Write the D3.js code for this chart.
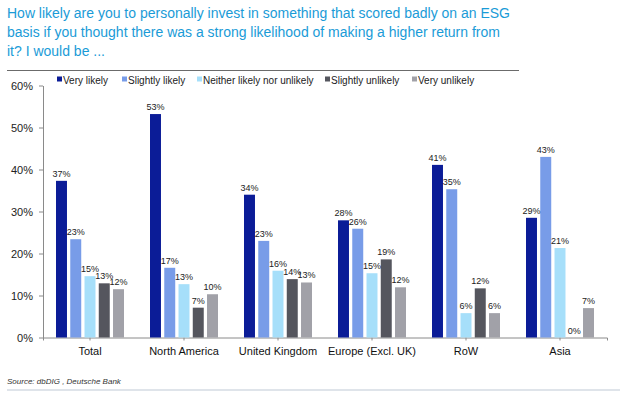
<!DOCTYPE html>
<html>
<head>
<meta charset="utf-8">
<script src="https://cdn.jsdelivr.net/npm/d3@7"></script>
<style>
  body { margin: 0; background: #fff; }
  svg { display: block; font-family: Arial, "Liberation Sans", sans-serif; }
</style>
</head>
<body>
<svg id="chart" width="620" height="393"></svg>
<script>
// Survey categories and answer series (percent of respondents)
const categories = ['Total', 'North America', 'United Kingdom', 'Europe (Excl. UK)', 'RoW', 'Asia'];
const seriesNames = ['Very likely', 'Slightly likely', 'Neither likely nor unlikely', 'Slightly unlikely', 'Very unlikely'];
const veryLikely       = [37.3, 53.2, 34.0, 27.9, 41.1, 28.5];
const slightlyLikely   = [23.4, 16.6, 23.0, 25.9, 35.3, 43.0];
const neither          = [14.6, 12.7, 15.9, 15.3, 5.8, 21.3];
const slightlyUnlikely = [12.9, 7.1, 13.9, 18.6, 11.7, 0];
const veryUnlikely     = [11.5, 10.3, 13.1, 11.95, 5.8, 7.0];
const yTicks = [0, 10, 20, 30, 40, 50, 60];

const titleLines = [
  'How likely are you to personally invest in something that scored badly on an ESG',
  'basis if you thought there was a strong likelihood of making a higher return from',
  'it? I would be ...'
];

const colors = ['#0b1c97', '#789ce8', '#a6dffa', '#55565e', '#a1a1a8'];
const allSeries = [veryLikely, slightlyLikely, neither, slightlyUnlikely, veryUnlikely];

// Build a flat table for the bars
const rows = [];
categories.forEach((c, i) => {
  seriesNames.forEach((s, j) => rows.push({ cat: c, series: s, value: allSeries[j][i] }));
});

const svg = d3.select('#chart');

// Title (the original font is narrower than Arial, so squeeze to the same width)
const title = svg.append('g').selectAll('text')
  .data(titleLines)
  .enter()
  .append('text')
  .attr('x', 7)
  .attr('y', (d, i) => 18 + i * 19)
  .attr('fill', '#1a9bd7')
  .style('font-size', '15.5px')
  .text(d => d);
const squeeze = 503 / title.node().getComputedTextLength();
title.each(function () {
  const w = this.getComputedTextLength() * squeeze;
  d3.select(this).attr('textLength', w).attr('lengthAdjust', 'spacingAndGlyphs');
});

svg.append('line')
  .attr('x1', 7).attr('x2', 519)
  .attr('y1', 70.5).attr('y2', 70.5)
  .attr('stroke', '#6b6b6b')
  .attr('stroke-width', 1.2);

// Scales
const x0 = d3.scaleBand().domain(categories).range([43, 607]);
const x1 = d3.scaleBand().domain(seriesNames).range([13, 81]).paddingInner(0.23);
const y = d3.scaleLinear().domain([0, 60]).range([337.5, 85.5]);
const color = d3.scaleOrdinal().domain(seriesNames).range(colors);

// Axes
const yAxis = svg.append('g')
  .attr('transform', 'translate(43,0)')
  .call(d3.axisLeft(y).tickValues(yTicks).tickFormat(d => d + '%').tickSize(4).tickSizeOuter(0).tickPadding(6));
yAxis.selectAll('text').style('font-size', '11px').attr('fill', '#222');
yAxis.selectAll('line, path').attr('stroke', '#8a8a8a');

const xAxis = svg.append('g')
  .attr('transform', 'translate(0,337.5)')
  .call(d3.axisBottom(x0).tickSize(3).tickSizeOuter(3).tickPadding(7));
xAxis.selectAll('text').style('font-size', '11px').attr('fill', '#111');
xAxis.selectAll('line, path').attr('stroke', '#8a8a8a');

// Bars
svg.append('g').selectAll('rect')
  .data(rows)
  .enter()
  .append('rect')
  .attr('x', d => x0(d.cat) + x1(d.series))
  .attr('y', d => y(d.value))
  .attr('width', x1.bandwidth())
  .attr('height', d => y(0) - y(d.value))
  .attr('fill', d => color(d.series));

// Value labels
svg.append('g').selectAll('text')
  .data(rows)
  .enter()
  .append('text')
  .attr('x', d => x0(d.cat) + x1(d.series) + x1.bandwidth() / 2)
  .attr('y', d => y(d.value) - 4)
  .attr('text-anchor', 'middle')
  .attr('fill', '#222')
  .style('font-size', '9px')
  .text(d => Math.round(d.value) + '%');

// Legend
const legendX = [57, 122, 197, 325, 412];
const legend = svg.append('g').selectAll('g')
  .data(seriesNames)
  .enter()
  .append('g')
  .attr('transform', (d, i) => `translate(${legendX[i]},80)`);
legend.append('rect')
  .attr('x', 0).attr('y', -3.5)
  .attr('width', 5).attr('height', 5)
  .attr('fill', d => color(d));
legend.append('text')
  .attr('x', 6).attr('y', 3.5)
  .attr('fill', '#222')
  .style('font-size', '10px')
  .text(d => d);

// Source
svg.append('text')
  .attr('x', 7).attr('y', 384)
  .attr('fill', '#333')
  .style('font-size', '8px')
  .style('font-style', 'italic')
  .text('Source:  dbDIG , Deutsche Bank');

svg.append('line')
  .attr('x1', 7).attr('x2', 620)
  .attr('y1', 390).attr('y2', 390)
  .attr('stroke', '#dfe4ea')
  .attr('stroke-width', 2);
</script>
</body>
</html>
